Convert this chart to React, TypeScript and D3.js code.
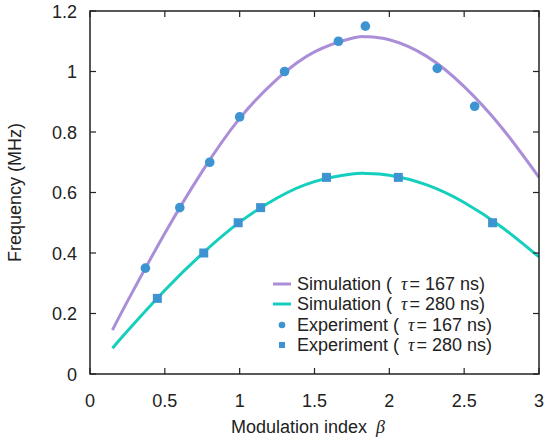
import React from "react";
import * as d3 from "d3";

// Simulation curves
const simX = [0.15, 0.25, 0.5, 0.75, 1.0, 1.25, 1.5, 1.75, 1.84, 2.0, 2.25, 2.5, 2.75, 3.0];
const sim167 = [0.145, 0.24, 0.465, 0.67, 0.845, 0.975, 1.065, 1.11, 1.115, 1.105, 1.05, 0.95, 0.815, 0.65];
const sim280 = [0.085, 0.142, 0.277, 0.398, 0.502, 0.582, 0.636, 0.661, 0.663, 0.657, 0.625, 0.567, 0.486, 0.387];

// Experimental points
const exp167X = [0.37, 0.6, 0.8, 1.0, 1.3, 1.66, 1.84, 2.32, 2.57];
const exp167Y = [0.35, 0.55, 0.7, 0.85, 1.0, 1.1, 1.15, 1.01, 0.885];
const exp280X = [0.45, 0.76, 0.99, 1.14, 1.58, 2.06, 2.69];
const exp280Y = [0.25, 0.4, 0.5, 0.55, 0.65, 0.65, 0.5];

const xTicks = [0, 0.5, 1, 1.5, 2, 2.5, 3];
const yTicks = [0, 0.2, 0.4, 0.6, 0.8, 1, 1.2];

const PURPLE = "#aa8fd8";
const TEAL = "#14cfbd";
const BLUE = "#3e93d1";
const FONT = "Arial, 'Liberation Sans', sans-serif";
const SERIF = "'Liberation Serif', 'DejaVu Serif', serif";

const W = 550;
const H = 438;
const M = { left: 90, right: 11, top: 11, bottom: 64 };
const TICK = 6;

export default function App() {
  const x = d3.scaleLinear().domain([0, 3]).range([M.left, W - M.right]);
  const y = d3.scaleLinear().domain([0, 1.2]).range([H - M.bottom, M.top]);

  const line = d3
    .line<number>()
    .x((_, i) => x(simX[i]))
    .y((d) => y(d))
    .curve(d3.curveNatural);

  const x0 = x(0), x1 = x(3), y0 = y(0), y1 = y(1.2);

  const legend = [
    { kind: "line", color: PURPLE, label: "Simulation (", tau: "167" },
    { kind: "line", color: TEAL, label: "Simulation (", tau: "280" },
    { kind: "circle", color: BLUE, label: "Experiment (", tau: "167" },
    { kind: "square", color: BLUE, label: "Experiment (", tau: "280" },
  ];
  const legendY = [284, 304, 325, 345];

  return (
    <svg width={W} height={H} style={{ position: "absolute", left: 0, top: 0, background: "#fff" }}
      fontFamily={FONT}>
      <defs>
        <clipPath id="plot">
          <rect x={x0} y={y1} width={x1 - x0} height={y0 - y1} />
        </clipPath>
      </defs>

      {/* curves */}
      <g clipPath="url(#plot)">
        <path d={line(sim167) || ""} fill="none" stroke={PURPLE} strokeWidth={3} />
        <path d={line(sim280) || ""} fill="none" stroke={TEAL} strokeWidth={3} />
      </g>

      {/* experiment markers */}
      {exp167X.map((v, i) => (
        <circle key={"c" + i} cx={x(v)} cy={y(exp167Y[i])} r={4.8} fill={BLUE} />
      ))}
      {exp280X.map((v, i) => (
        <rect key={"s" + i} x={x(v) - 4.5} y={y(exp280Y[i]) - 4.5} width={9} height={9} fill={BLUE} />
      ))}

      {/* frame */}
      <rect x={x0} y={y1} width={x1 - x0} height={y0 - y1} fill="none" stroke="#222" strokeWidth={1.5} />

      {/* ticks */}
      {xTicks.map((t) => (
        <g key={"xt" + t}>
          <line x1={x(t)} x2={x(t)} y1={y0} y2={y0 - TICK} stroke="#222" strokeWidth={1.2} />
          <line x1={x(t)} x2={x(t)} y1={y1} y2={y1 + TICK} stroke="#222" strokeWidth={1.2} />
          <text x={x(t)} y={407} textAnchor="middle" fontSize={18} fill="#222">{t}</text>
        </g>
      ))}
      {yTicks.map((t) => (
        <g key={"yt" + t}>
          <line x1={x0} x2={x0 + TICK} y1={y(t)} y2={y(t)} stroke="#222" strokeWidth={1.2} />
          <line x1={x1} x2={x1 - TICK} y1={y(t)} y2={y(t)} stroke="#222" strokeWidth={1.2} />
          <text x={77} y={y(t) + 6.5} textAnchor="end" fontSize={18} fill="#222">{t}</text>
        </g>
      ))}

      {/* axis titles */}
      <text x={231} y={433} fontSize={18} fill="#222">
        Modulation index{" "}
        <tspan fontFamily={SERIF} fontStyle="italic" dx={4}>β</tspan>
      </text>
      <text transform={`translate(21,${(y0 + y1) / 2}) rotate(-90)`} textAnchor="middle" fontSize={18} fill="#222">
        Frequency (MHz)
      </text>

      {/* legend */}
      {legend.map((l, i) => {
        const cy = legendY[i];
        return (
          <g key={"lg" + i}>
            {l.kind === "line" && <line x1={273} x2={291} y1={cy} y2={cy} stroke={l.color} strokeWidth={3} />}
            {l.kind === "circle" && <circle cx={282} cy={cy} r={3.3} fill={l.color} />}
            {l.kind === "square" && <rect x={279} y={cy - 3} width={6} height={6} fill={l.color} />}
            <text x={297} y={cy + 6} fontSize={18} fill="#222">
              {l.label + " "}
              <tspan fontFamily={SERIF} fontStyle="italic" dx={4}>τ</tspan>
              <tspan dx={2}>{"= " + l.tau + " ns)"}</tspan>
            </text>
          </g>
        );
      })}
    </svg>
  );
}
